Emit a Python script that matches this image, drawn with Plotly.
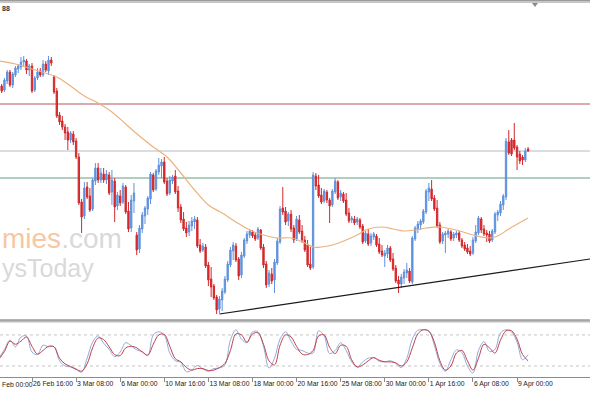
import plotly.graph_objects as go

# ---------------- data ----------------
bar_start = 4  # first plotted bar index (bar 0 = 24 Feb 00:00, H4 bars)

opens = [1310, 1314, 1310, 1319, 1328, 1315, 1325, 1331, 1333, 1338,
         1339, 1330, 1334, 1310, 1322, 1329, 1325, 1336, 1329, 1340,
         1323, 1309, 1285, 1279, 1273, 1268, 1260, 1266, 1259, 1243,
         1198, 1184, 1213, 1204, 1191, 1219, 1232, 1220, 1226, 1220,
         1225, 1208, 1219, 1194, 1204, 1198, 1213, 1189, 1172, 1199,
         1165, 1151, 1171, 1184, 1191, 1201, 1225, 1211, 1228, 1234,
         1238, 1219, 1207, 1219, 1224, 1209, 1193, 1181, 1172, 1168,
         1174, 1178, 1180, 1155, 1150, 1153, 1135, 1121, 1114, 1103,
         1091, 1100, 1108, 1120, 1135, 1149, 1154, 1141, 1125, 1144,
         1159, 1165, 1168, 1165, 1162, 1170, 1153, 1136, 1116, 1126,
         1120, 1137, 1158, 1192, 1189, 1179, 1186, 1172, 1161, 1180,
         1169, 1160, 1155, 1136, 1133, 1224, 1215, 1205, 1199, 1208,
         1200, 1195, 1208, 1218, 1203, 1206, 1200, 1187, 1180, 1181,
         1178, 1180, 1174, 1159, 1166, 1157, 1163, 1164, 1156, 1149,
         1144, 1146, 1152, 1141, 1132, 1120, 1116, 1122, 1127, 1129,
         1118, 1161, 1171, 1175, 1178, 1188, 1208, 1211, 1202, 1192,
         1175, 1159, 1165, 1166, 1168, 1162, 1165, 1167, 1160, 1155,
         1152, 1149, 1147, 1159, 1167, 1181, 1171, 1167, 1166, 1160,
         1168, 1185, 1187, 1195, 1203, 1258, 1260, 1260, 1253, 1246,
         1243, 1240, 1251]
highs = [1317, 1316, 1322, 1330, 1330, 1328, 1334, 1336, 1343, 1344,
         1341, 1336, 1337, 1324, 1332, 1332, 1340, 1339, 1344, 1343,
         1325, 1312, 1288, 1284, 1276, 1273, 1269, 1269, 1262, 1247,
         1201, 1218, 1218, 1212, 1222, 1237, 1237, 1232, 1232, 1230,
         1228, 1230, 1222, 1208, 1210, 1217, 1215, 1198, 1205, 1217,
         1168, 1175, 1188, 1194, 1204, 1228, 1227, 1231, 1242, 1241,
         1243, 1222, 1224, 1225, 1230, 1214, 1196, 1188, 1178, 1179,
         1183, 1184, 1183, 1161, 1157, 1156, 1138, 1133, 1116, 1105,
         1104, 1112, 1124, 1139, 1153, 1158, 1157, 1143, 1148, 1162,
         1169, 1171, 1170, 1168, 1173, 1171, 1156, 1139, 1130, 1132,
         1141, 1162, 1194, 1213, 1193, 1188, 1190, 1175, 1184, 1185,
         1175, 1164, 1160, 1153, 1228, 1227, 1225, 1212, 1211, 1210,
         1202, 1211, 1222, 1220, 1210, 1208, 1207, 1192, 1184, 1184,
         1183, 1182, 1176, 1169, 1171, 1167, 1168, 1166, 1162, 1155,
         1150, 1155, 1154, 1147, 1135, 1124, 1126, 1131, 1137, 1132,
         1164, 1174, 1179, 1181, 1191, 1211, 1217, 1220, 1205, 1200,
         1178, 1168, 1169, 1171, 1170, 1168, 1169, 1169, 1162, 1158,
         1156, 1154, 1163, 1175, 1184, 1183, 1175, 1170, 1169, 1171,
         1188, 1190, 1199, 1206, 1262, 1270, 1262, 1277, 1255, 1249,
         1245, 1252, 1253]
lows = [1308, 1307, 1308, 1316, 1313, 1312, 1323, 1327, 1330, 1334,
        1326, 1324, 1307, 1308, 1320, 1323, 1323, 1328, 1325, 1334,
        1306, 1282, 1275, 1270, 1260, 1250, 1257, 1255, 1241, 1195,
        1167, 1181, 1201, 1188, 1189, 1215, 1217, 1217, 1217, 1216,
        1205, 1195, 1178, 1190, 1194, 1196, 1186, 1168, 1168, 1187,
        1145, 1147, 1167, 1176, 1185, 1196, 1208, 1209, 1225, 1222,
        1216, 1204, 1205, 1216, 1206, 1188, 1177, 1169, 1163, 1164,
        1169, 1171, 1152, 1147, 1148, 1132, 1114, 1103, 1100, 1086,
        1087, 1089, 1106, 1118, 1133, 1140, 1138, 1120, 1122, 1142,
        1156, 1162, 1162, 1159, 1160, 1150, 1132, 1112, 1113, 1116,
        1107, 1135, 1156, 1185, 1175, 1174, 1168, 1157, 1159, 1166,
        1157, 1148, 1133, 1130, 1131, 1210, 1202, 1196, 1197, 1197,
        1177, 1193, 1206, 1200, 1199, 1197, 1184, 1177, 1177, 1175,
        1175, 1171, 1156, 1157, 1154, 1154, 1160, 1153, 1146, 1143,
        1133, 1142, 1138, 1129, 1117, 1107, 1112, 1116, 1122, 1117,
        1116, 1159, 1167, 1170, 1176, 1186, 1199, 1199, 1189, 1172,
        1156, 1156, 1147, 1162, 1159, 1159, 1162, 1158, 1152, 1149,
        1146, 1144, 1145, 1157, 1165, 1167, 1164, 1158, 1157, 1158,
        1166, 1179, 1184, 1190, 1200, 1245, 1244, 1250, 1230, 1236,
        1235, 1238, 1248]
closes = [1315, 1309, 1320, 1328, 1315, 1326, 1332, 1334, 1338, 1340,
          1330, 1334, 1309, 1322, 1328, 1325, 1336, 1330, 1340, 1337,
          1308, 1284, 1278, 1273, 1267, 1260, 1267, 1258, 1243, 1197,
          1183, 1212, 1203, 1190, 1220, 1232, 1220, 1227, 1220, 1226,
          1207, 1220, 1193, 1205, 1197, 1214, 1188, 1171, 1200, 1207,
          1150, 1172, 1185, 1192, 1202, 1226, 1210, 1229, 1235, 1238,
          1218, 1206, 1220, 1223, 1208, 1192, 1180, 1171, 1167, 1175,
          1179, 1181, 1154, 1149, 1154, 1134, 1120, 1113, 1102, 1090,
          1101, 1109, 1121, 1136, 1150, 1155, 1140, 1124, 1145, 1160,
          1166, 1169, 1164, 1161, 1171, 1152, 1135, 1115, 1127, 1119,
          1138, 1159, 1191, 1188, 1178, 1186, 1171, 1160, 1181, 1168,
          1160, 1150, 1135, 1132, 1225, 1214, 1204, 1198, 1209, 1200,
          1194, 1209, 1219, 1202, 1207, 1199, 1186, 1179, 1182, 1177,
          1181, 1173, 1158, 1167, 1156, 1164, 1166, 1155, 1148, 1145,
          1147, 1152, 1140, 1131, 1119, 1116, 1123, 1128, 1130, 1119,
          1162, 1172, 1176, 1179, 1189, 1209, 1212, 1201, 1191, 1174,
          1158, 1166, 1167, 1169, 1161, 1166, 1167, 1160, 1154, 1151,
          1148, 1146, 1160, 1168, 1182, 1170, 1166, 1165, 1159, 1169,
          1186, 1188, 1196, 1204, 1259, 1247, 1246, 1252, 1243, 1239,
          1240, 1249, 1249]

# moving average
ma_idx = [4, 10, 16, 22, 25, 30, 35, 40, 45, 50, 55, 60, 65, 70, 75, 80, 85, 90, 95,
          100, 105, 110, 115, 118, 121, 125, 130, 134, 138, 143, 147, 151, 155, 159,
          164, 170, 176, 182, 185, 189, 196]
ma_val = [1339, 1336, 1331, 1326, 1323, 1314, 1304, 1297, 1288, 1276, 1264, 1253, 1243,
          1227, 1210, 1195, 1187, 1178, 1170, 1165, 1162, 1162, 1157, 1153, 1153, 1155,
          1160, 1165, 1171, 1173, 1171, 1169, 1170, 1172, 1173, 1170, 1165, 1162, 1164,
          1171, 1182]

# horizontal levels and trend line
level_red = 1296
level_gray = 1249
level_green = 1222
trend_idx = [84, 218.47]
trend_val = [1086, 1141]

# stochastic oscillator (every second bar)
stoch_k = [35, 52, 70, 57, 76, 78, 47, 42, 60, 57, 57, 30, 20, 18, 13, 8, 35, 66, 78, 64,
           52, 38, 47, 65, 59, 51, 48, 40, 80, 86, 80, 45, 30, 27, 9, 12, 21, 14, 10, 15,
           16, 22, 70, 90, 72, 65, 86, 86, 58, 16, 35, 72, 86, 68, 52, 50, 45, 45, 88, 78,
           44, 50, 65, 50, 28, 18, 28, 35, 36, 29, 28, 30, 25, 17, 35, 72, 89, 90, 88, 60,
           25, 10, 32, 51, 46, 20, 6, 50, 67, 48, 52, 84, 90, 86, 66, 32, 42]
stoch_d = [33, 48, 68, 62, 68, 76, 58, 43, 50, 58, 57, 35, 24, 19, 14, 10, 24, 55, 74, 71,
           57, 42, 40, 55, 58, 55, 47, 41, 62, 80, 81, 58, 34, 28, 17, 12, 15, 15, 11, 12,
           17, 25, 50, 82, 80, 66, 82, 84, 62, 30, 22, 60, 80, 76, 58, 43, 42, 50, 78, 80,
           56, 44, 60, 58, 32, 18, 22, 30, 36, 31, 28, 28, 26, 20, 28, 55, 82, 90, 87, 66,
           30, 12, 20, 45, 50, 30, 12, 35, 62, 55, 45, 70, 88, 88, 72, 42, 30]
stoch_levels = [80, 20]

tick_idx = [16, 32, 48, 64, 80, 96, 112, 128, 144, 160, 176, 192]
tick_text = ["26 Feb 16:00", "3 Mar 08:00", "6 Mar 00:00", "10 Mar 16:00", "13 Mar 08:00",
             "18 Mar 00:00", "20 Mar 16:00", "25 Mar 08:00", "30 Mar 00:00", "1 Apr 16:00",
             "6 Apr 08:00", "9 Apr 00:00"]
first_label = "Feb 00:00"     # visible part of the clipped first label
header_tail = "88"            # visible tail of the chart header
wm_line1 = ("mies", ".com")   # visible part of the watermark
wm_line2 = "ysToday"

# ---------------- figure ----------------
W, H = 590, 393


def py(p):
    return (H - p) / H


bars = list(range(bar_start, bar_start + len(opens)))
stoch_idx = list(range(bar_start, bar_start + 2 * len(stoch_k), 2))

UP = "#5f92de"
DOWN = "#d4282b"
TXT = "#222222"
FONT = "Liberation Sans"

fig = go.Figure()

fig.add_trace(go.Candlestick(
    x=bars, open=opens, high=highs, low=lows, close=closes,
    increasing=dict(line=dict(color=UP, width=1), fillcolor=UP),
    decreasing=dict(line=dict(color=DOWN, width=1), fillcolor=DOWN),
    whiskerwidth=0, xaxis="x", yaxis="y", showlegend=False, hoverinfo="skip"))

fig.add_trace(go.Scatter(x=ma_idx, y=ma_val, mode="lines",
                         line=dict(color="#ebb27e", width=1.2, shape="spline"),
                         xaxis="x", yaxis="y", showlegend=False, hoverinfo="skip"))

fig.add_trace(go.Scatter(x=trend_idx, y=trend_val, mode="lines",
                         line=dict(color="#1a1a1a", width=1.2),
                         xaxis="x", yaxis="y", showlegend=False, hoverinfo="skip"))

fig.add_trace(go.Scatter(x=stoch_idx, y=stoch_k, mode="lines",
                         line=dict(color="#93acd8", width=1, shape="spline"),
                         xaxis="x", yaxis="y2", showlegend=False, hoverinfo="skip"))
fig.add_trace(go.Scatter(x=stoch_idx, y=stoch_d, mode="lines",
                         line=dict(color="#c0404e", width=1, shape="spline"),
                         xaxis="x", yaxis="y2", showlegend=False, hoverinfo="skip"))

shapes = []
for lvl, col in [(level_red, "#b5565c"), (level_gray, "#b4bcc6"), (level_green, "#5e9e80")]:
    shapes.append(dict(type="line", xref="paper", x0=0, x1=1, yref="y", y0=lvl, y1=lvl,
                       line=dict(color=col, width=1), layer="below"))
for lvl in stoch_levels:
    shapes.append(dict(type="line", xref="paper", x0=0, x1=1, yref="y2", y0=lvl, y1=lvl,
                       line=dict(color="#c4c4c4", width=1, dash="dot"), layer="below"))
# top bar
shapes.append(dict(type="rect", xref="paper", yref="paper", x0=0, x1=1, y0=py(3), y1=1,
                   fillcolor="#c6c6c6", line=dict(width=0)))
shapes.append(dict(type="rect", xref="paper", yref="paper", x0=0, x1=1, y0=py(1), y1=1,
                   fillcolor="#9a9a9a", line=dict(width=0)))
# separator between panes
shapes.append(dict(type="rect", xref="paper", yref="paper", x0=0, x1=1, y0=py(322.5), y1=py(319.5),
                   fillcolor="#bdbdbd", line=dict(width=0)))
shapes.append(dict(type="rect", xref="paper", yref="paper", x0=0, x1=1, y0=py(320.5), y1=py(319.5),
                   fillcolor="#8c8c8c", line=dict(width=0)))
# shift marker triangle
shapes.append(dict(type="path", xref="paper", yref="paper",
                   path=f"M {532/W},{py(3)} L {538/W},{py(3)} L {535/W},{py(7)} Z",
                   fillcolor="#8a8a8a", line=dict(width=0)))

annotations = [
    dict(text=f"<b>{header_tail}</b>", xref="paper", yref="paper", x=0, y=py(8.5), xanchor="left",
         yanchor="middle", showarrow=False, font=dict(size=7, color="#333333", family=FONT)),
    dict(text=f"<span style='color:#f7c7a5'>{wm_line1[0]}</span><span style='color:#d9d9d9'>{wm_line1[1]}</span>",
         xref="paper", yref="paper", x=0, y=py(239), xanchor="left", yanchor="middle",
         showarrow=False, font=dict(size=28, family=FONT)),
    dict(text=wm_line2, xref="paper", yref="paper", x=0, y=py(268), xanchor="left",
         yanchor="middle", showarrow=False, font=dict(size=25, color="#d9d9d9", family=FONT)),
    dict(text=first_label, xref="paper", yref="paper", x=0, y=py(384), xanchor="left",
         yanchor="middle", showarrow=False, font=dict(size=6.8, color=TXT, family=FONT)),
]

fig.update_layout(
    width=W, height=H, margin=dict(l=0, r=0, t=0, b=0, autoexpand=False),
    paper_bgcolor="white", plot_bgcolor="white", showlegend=False, hovermode=False,
    shapes=shapes, annotations=annotations,
    xaxis=dict(range=[4.39, 218.47], anchor="y2", showgrid=False, zeroline=False,
               automargin=False, tickangle=0,
               rangeslider=dict(visible=False), showline=True, linecolor="#8c8c8c", linewidth=1,
               ticks="outside", ticklen=4, tickcolor="#8c8c8c", tickwidth=1,
               tickvals=tick_idx, ticktext=tick_text, ticklabelposition="outside right",
               tickfont=dict(size=6.8, color=TXT, family=FONT)),
    yaxis=dict(domain=[py(319), py(4)], range=[1081, 1396], visible=False, fixedrange=True,
               automargin=False),
    yaxis2=dict(domain=[py(377), py(323)], range=[-1.35, 103.1], visible=False, fixedrange=True,
                automargin=False),
)

fig.write_html("out.html")
